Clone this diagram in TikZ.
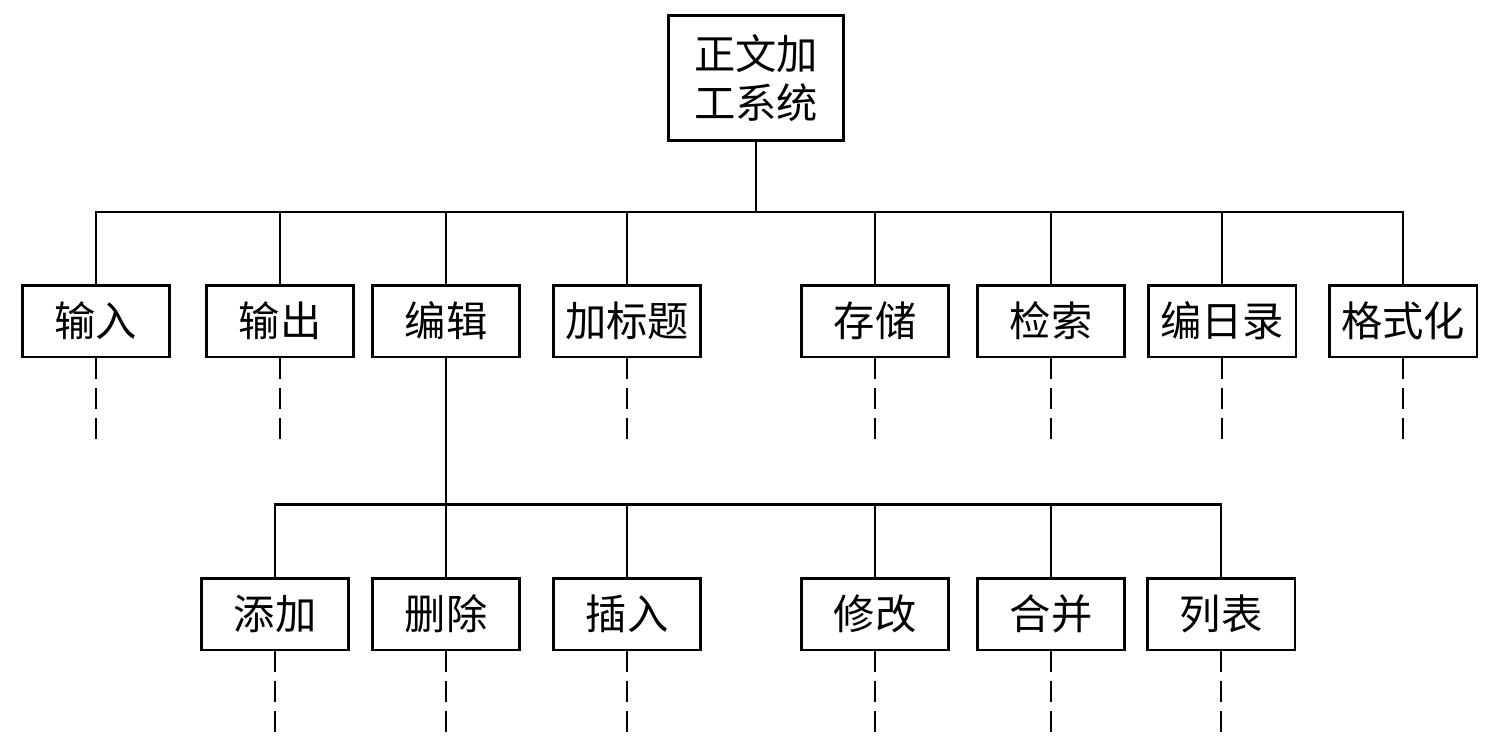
\documentclass[tikz,border=0pt]{standalone}
\usepackage{fontspec}
\newfontfamily\cjk{Noto Sans CJK SC}
\usetikzlibrary{positioning}

\begin{document}
\begin{tikzpicture}[x=0.02cm, y=-0.02cm, line width=1.4pt,
    box/.style={draw, line width=1.7pt, minimum width=2.96cm, minimum height=1.44cm, inner sep=0pt, font=\cjk\fontsize{23.5}{28}\selectfont},
    stub/.style={dash pattern=on 0.42cm off 0.18cm}]
    \useasboundingbox (0,0) rectangle (1489,750);

    %root of the tree
        \node[box, minimum width=3.5cm, minimum height=2.5cm, align=center] (sys) at (756,78) {正文加\\工系统};

    %first level
        \foreach \name/\x/\txt in {input/96/输入, output/280/输出, edit/446/编辑, title/627/加标题, store/875/存储, search/1051/检索, index/1222/编日录, format/1403/格式化}
            \node[box] (\name) at (\x,321) {\txt};

        \foreach \name in {input,output,edit,title,store,search,index,format}
            \draw (sys.south) -- ++(0,70) -| (\name.north);

    %loose ends of the first level
        \foreach \name in {input,output,title,store,search,index,format}
            \draw[stub] (\name.south) -- ++(0,83);

    %second level, under edit
        \foreach \name/\x/\txt in {add/275/添加, del/446/删除, ins/627/插入, mod/875/修改, merge/1051/合并, list/1221/列表}
            \node[box] (\name) at (\x,614) {\txt};

        \foreach \name in {add,del,ins,mod,merge,list}{
            \draw (edit.south) -- ++(0,146) -| (\name.north);
            \draw[stub] (\name.south) -- ++(0,83);
        }

\end{tikzpicture}
\end{document}
